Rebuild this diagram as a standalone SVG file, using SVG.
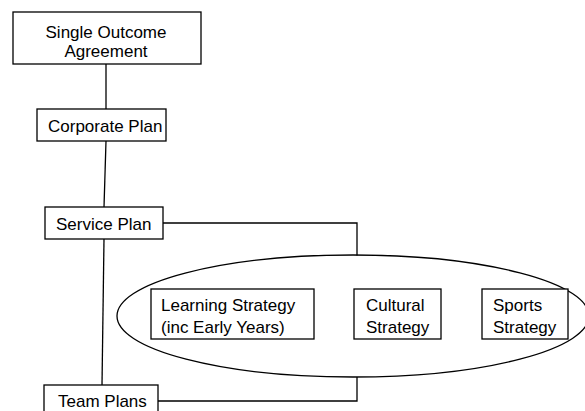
<svg xmlns="http://www.w3.org/2000/svg" width="585" height="411" viewBox="0 0 585 411">
<style>
rect.box{fill:#fff;stroke:#000;stroke-width:1.3}
.ln{fill:none;stroke:#000;stroke-width:1.3}
text{font-family:"Liberation Sans",Arial,sans-serif;font-size:17px;fill:#000}
</style>
<rect width="585" height="411" fill="#fff"/>
<g id="connectors">
<line class="ln" x1="106" y1="64" x2="106" y2="109"/>
<line class="ln" x1="106" y1="141" x2="104" y2="207"/>
<line class="ln" x1="104" y1="239" x2="102" y2="385"/>
<polyline class="ln" points="163,223 357,223 357,255.5"/>
<polyline class="ln" points="158,401 357,401 357,377"/>
</g>
<g id="group-ellipse">
<ellipse class="ln" cx="353" cy="316" rx="236" ry="61"/>
</g>
<g id="single-outcome">
<rect class="box" x="13" y="12" width="188" height="52"/>
<text x="106" y="37.5" text-anchor="middle">Single Outcome</text>
<text x="106" y="57" text-anchor="middle">Agreement</text>
</g>
<g id="corporate-plan">
<rect class="box" x="37" y="109" width="129" height="32"/>
<text x="48" y="132">Corporate Plan</text>
</g>
<g id="service-plan">
<rect class="box" x="45" y="207" width="118" height="32"/>
<text x="56" y="230">Service Plan</text>
</g>
<g id="team-plans">
<rect class="box" x="44" y="385" width="114" height="32"/>
<text x="58" y="407">Team Plans</text>
</g>
<g id="learning-strategy">
<rect class="box" x="151" y="289" width="163" height="50"/>
<text x="161" y="311">Learning Strategy</text>
<text x="161" y="332.5">(inc Early Years)</text>
</g>
<g id="cultural-strategy">
<rect class="box" x="354" y="289" width="87" height="50"/>
<text x="366" y="311">Cultural</text>
<text x="366" y="332.5">Strategy</text>
</g>
<g id="sports-strategy">
<rect class="box" x="482" y="289" width="86" height="50"/>
<text x="493" y="311">Sports</text>
<text x="493" y="332.5">Strategy</text>
</g>
</svg>
